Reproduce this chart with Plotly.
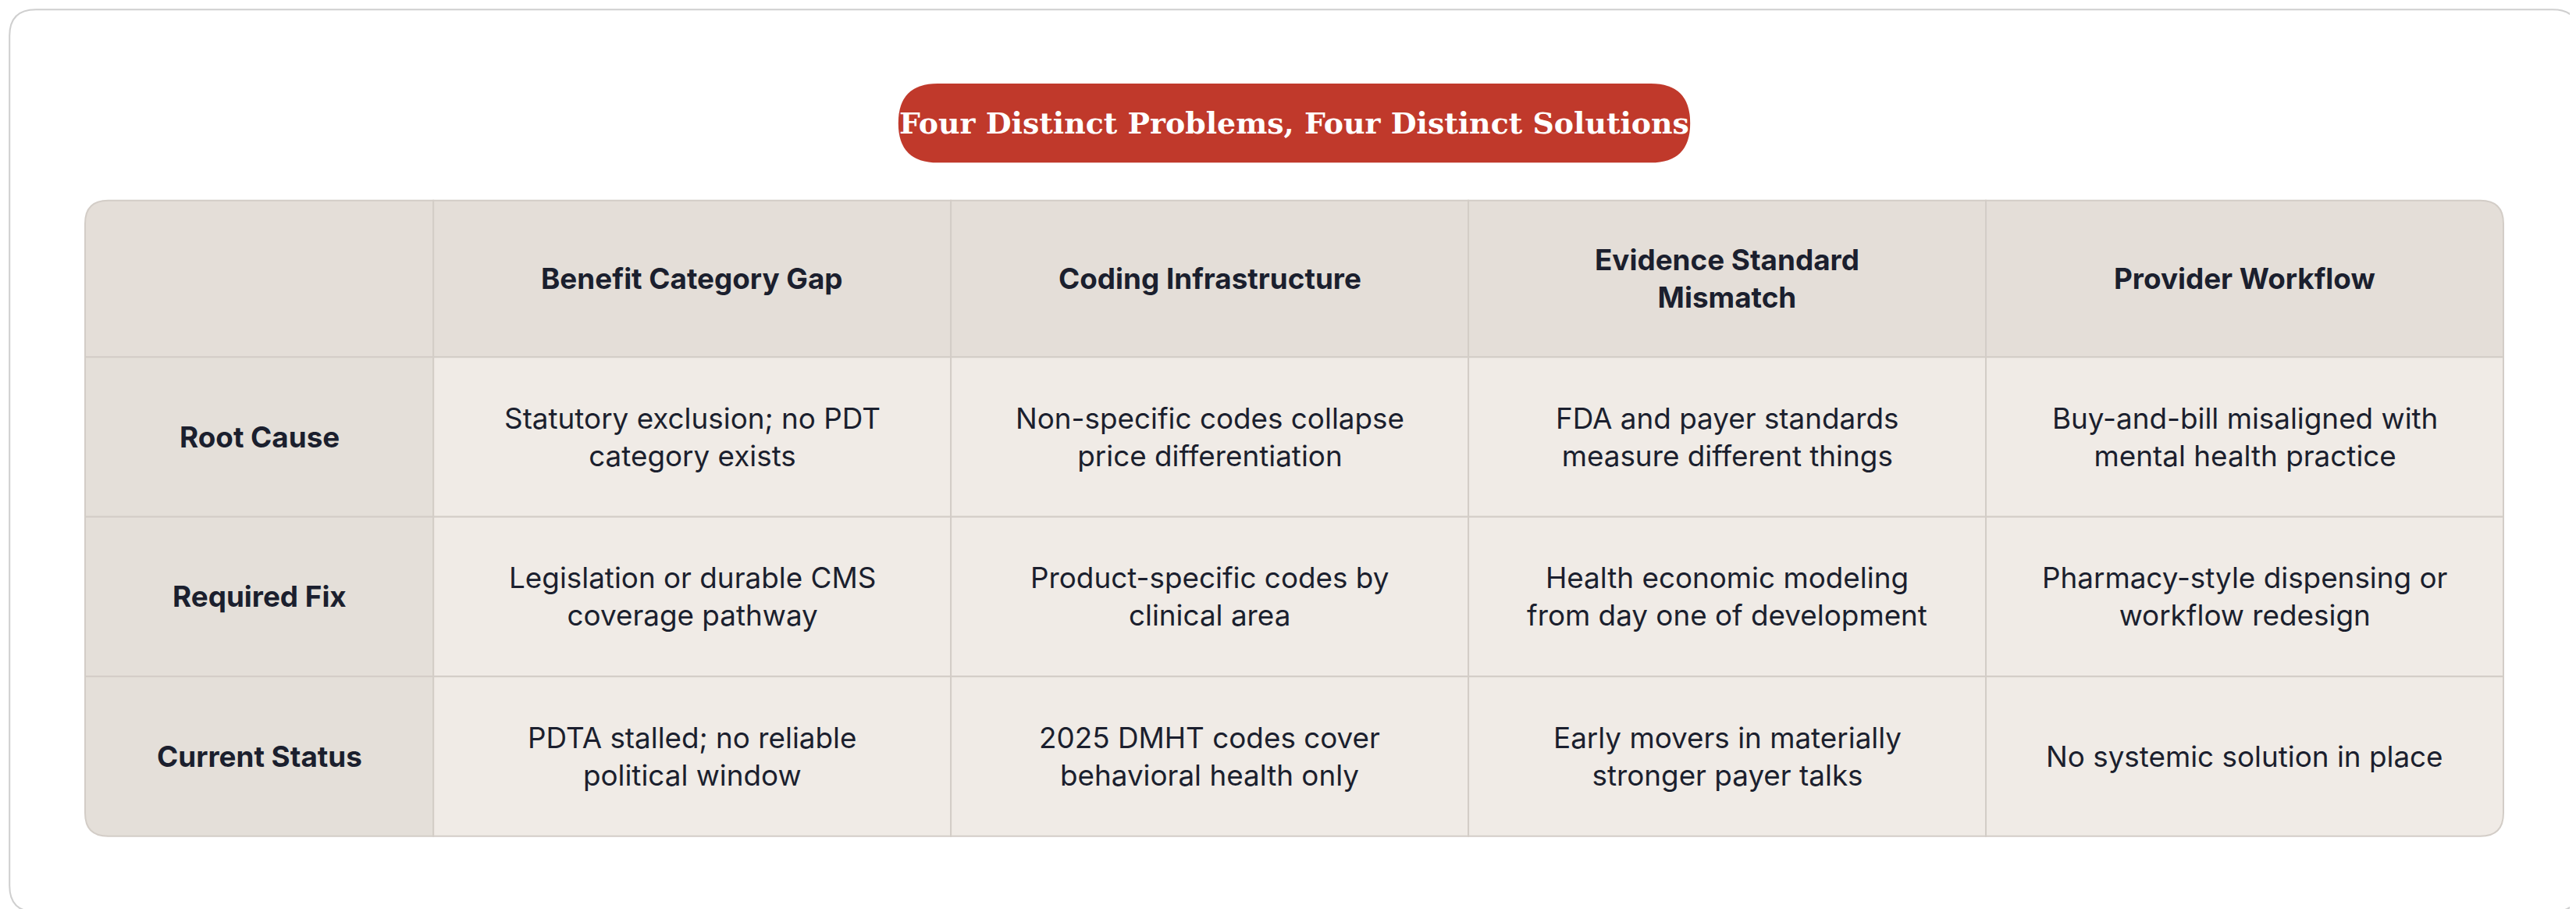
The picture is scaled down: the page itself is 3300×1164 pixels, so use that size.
import plotly.graph_objects as go

S = 3300 / 1568  # pixel scale of reference layout units

title = 'Four Distinct Problems, Four Distinct Solutions'
columns = ['Benefit Category Gap', 'Coding Infrastructure',
           'Evidence Standard<br>Mismatch', 'Provider Workflow']
row_labels = ['Root Cause', 'Required Fix', 'Current Status']
cells = [
  ['Statutory exclusion; no PDT<br>category exists',
   'Non-specific codes collapse<br>price differentiation',
   'FDA and payer standards<br>measure different things',
   'Buy-and-bill misaligned with<br>mental health practice'],
  ['Legislation or durable CMS<br>coverage pathway',
   'Product-specific codes by<br>clinical area',
   'Health economic modeling<br>from day one of development',
   'Pharmacy-style dispensing or<br>workflow redesign'],
  ['PDTA stalled; no reliable<br>political window',
   '2025 DMHT codes cover<br>behavioral health only',
   'Early movers in materially<br>stronger payer talks',
   'No systemic solution in place'],
]

col_edges = [48, 260, 575, 890, 1205, 1520]
row_edges = [118, 213, 310, 407, 504]
R = 14
HEAD_BG = '#E4DED8'
CELL_BG = '#F0EBE6'
LINE = '#D3CDC7'
TEXT = '#1B1F2E'


def rpath(x0, y0, x1, y1, tl=0, tr=0, br=0, bl=0):
  return (f'M{x0 + tl},{y0} L{x1 - tr},{y0} Q{x1},{y0} {x1},{y0 + tr} '
          f'L{x1},{y1 - br} Q{x1},{y1} {x1 - br},{y1} L{x0 + bl},{y1} '
          f'Q{x0},{y1} {x0},{y1 - bl} L{x0},{y0 + tl} Q{x0},{y0} {x0 + tl},{y0} Z')


fig = go.Figure()
shapes = []
annotations = []

# outer card
shapes.append(dict(type='path', path=rpath(2, 2, 1566, 550, 16, 16, 16, 16),
                   line=dict(color='#CFCFCF', width=2), fillcolor='white', layer='below'))

# title pill
shapes.append(dict(type='path', path=rpath(543, 47, 1025, 95, 24, 24, 24, 24),
                   line=dict(width=0), fillcolor='#C0392B'))
annotations.append(dict(x=784, y=71, text=f'<b>{title}</b>', showarrow=False,
                        font=dict(family='DejaVu Serif', size=18 * S, color='white')))

nr = len(row_edges) - 1
nc = len(col_edges) - 1
for i in range(nr):
  for j in range(nc):
    x0, x1 = col_edges[j], col_edges[j + 1]
    y0, y1 = row_edges[i], row_edges[i + 1]
    tl = R if (i == 0 and j == 0) else 0
    tr = R if (i == 0 and j == nc - 1) else 0
    bl = R if (i == nr - 1 and j == 0) else 0
    br = R if (i == nr - 1 and j == nc - 1) else 0
    if j == 0 and i > 0:
      bg = '#E4DFD9'
    elif i == 0:
      bg = HEAD_BG
    else:
      bg = CELL_BG
    shapes.append(dict(type='path', path=rpath(x0, y0, x1, y1, tl, tr, br, bl),
                       line=dict(color=LINE, width=2), fillcolor=bg))
    if i == 0 and j == 0:
      continue
    if i == 0:
      txt, bold = columns[j - 1], True
    elif j == 0:
      txt, bold = row_labels[i - 1], True
    else:
      txt, bold = cells[i - 1][j - 1], False
    annotations.append(dict(x=(x0 + x1) / 2, y=(y0 + y1) / 2,
                            text=f'<b>{txt}</b>' if bold else txt, showarrow=False,
                            font=dict(family='Inter', size=17.5 * S, color=TEXT)))

fig.update_layout(
  width=3300, height=1164, margin=dict(l=0, r=0, t=0, b=0),
  paper_bgcolor='white', plot_bgcolor='white',
  xaxis=dict(range=[0, 1568], visible=False, fixedrange=True),
  yaxis=dict(range=[552, 0], visible=False, fixedrange=True),
  shapes=shapes, annotations=annotations, showlegend=False,
)

fig.write_html('out.html')
